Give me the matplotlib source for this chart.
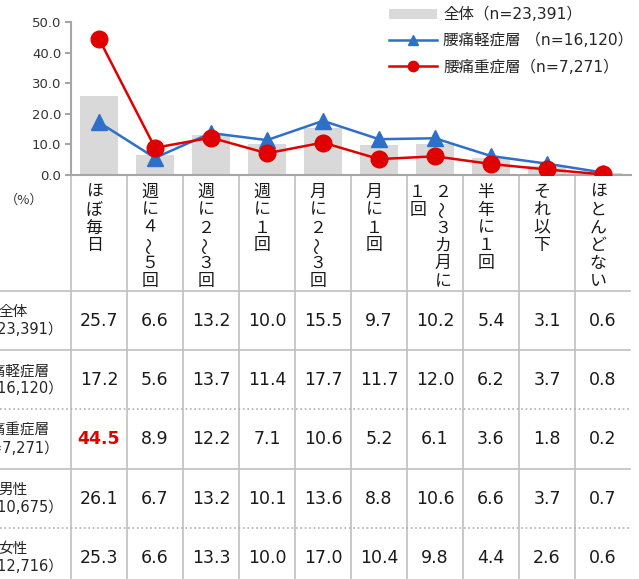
import matplotlib
matplotlib.use('Agg')
import matplotlib.pyplot as plt
from matplotlib.lines import Line2D
from matplotlib.transforms import blended_transform_factory

plt.rcParams['font.family'] = ['DejaVu Sans', 'Noto Sans CJK JP']

categories = ['ほぼ毎日', '週に４～５回', '週に２～３回', '週に１回', '月に２～３回',
              '月に１回', '２～３カ月に１回', '半年に１回', 'それ以下', 'ほとんどない']
total = [25.7, 6.6, 13.2, 10.0, 15.5, 9.7, 10.2, 5.4, 3.1, 0.6]
mild = [17.2, 5.6, 13.7, 11.4, 17.7, 11.7, 12.0, 6.2, 3.7, 0.8]
severe = [44.5, 8.9, 12.2, 7.1, 10.6, 5.2, 6.1, 3.6, 1.8, 0.2]
male = [26.1, 6.7, 13.2, 10.1, 13.6, 8.8, 10.6, 6.6, 3.7, 0.7]
female = [25.3, 6.6, 13.3, 10.0, 17.0, 10.4, 9.8, 4.4, 2.6, 0.6]
table_rows = [total, mild, severe, male, female]
row_labels = ['全体\n（n=23,391）', '腰痛軽症層\n（n=16,120）', '腰痛重症層\n（n=7,271）',
              '男性\n（n=10,675）', '女性\n（n=12,716）']
legend_labels = ['全体（n=23,391）', '腰痛軽症層 （n=16,120）', '腰痛重症層（n=7,271）']
yticks = [0, 10, 20, 30, 40, 50]

W, H = 639, 579
fig = plt.figure(figsize=(W / 100, H / 100), dpi=100)
fig.patch.set_facecolor('white')

def fy(py):
    return 1 - py / H

def fx(px):
    return px / W

ax = fig.add_axes([fx(71), fy(175), fx(631) - fx(71), fy(22) - fy(175)])
x = list(range(len(categories)))

GRID = '#bfbfbf'
BLUE = '#2e6fc9'
RED = '#e00000'

b = ax.bar(x, total, width=0.67, color='#d9d9d9', zorder=1, label=legend_labels[0])
l1, = ax.plot(x, mild, color=BLUE, lw=1.8, marker='^', markersize=11, zorder=3,
              label=legend_labels[1])
l2, = ax.plot(x, severe, color=RED, lw=1.8, marker='o', markersize=12, zorder=4,
              label=legend_labels[2])

ax.set_xlim(-0.5, 9.5)
ax.set_ylim(0, 50)
ax.set_yticks(yticks)
ax.set_yticklabels([f'{v:.1f}' for v in yticks], fontsize=9.5, color='#333333')
ax.set_xticks([])
for s in ['top', 'right']:
    ax.spines[s].set_visible(False)
ax.spines['left'].set_color('#a6a6a6')
ax.spines['left'].set_linewidth(1.5)
ax.spines['bottom'].set_color('#a6a6a6')
ax.spines['bottom'].set_linewidth(1.5)
ax.tick_params(axis='y', length=4, width=1.5, color='#a6a6a6', pad=3)
ax.patch.set_alpha(0)

leg = fig.legend(handles=[b, l1, l2], labels=legend_labels, loc='upper left',
                 bbox_to_anchor=(fx(389), fy(7)), frameon=False, fontsize=11.2,
                 handlelength=3.1, handletextpad=0.4, labelspacing=0.7,
                 borderpad=0, borderaxespad=0, handleheight=0.65, markerscale=0.62)
for t in leg.get_texts():
    t.set_color('#262626')

# category labels (vertical text)
tr = blended_transform_factory(ax.transData, fig.transFigure)
step = 17.8
for i, cat in enumerate(categories):
    cols = [cat[k:k + 6] for k in range(0, len(cat), 6)]
    if len(cols) == 1:
        xs = [i - 0.09]
    else:
        xs = [i + 0.14, i - 0.31]
    for cx, col in zip(xs, cols):
        for k, ch in enumerate(col):
            rot = 90 if ch == '～' else 0
            ax.text(cx, fy(192 + k * step), ch, transform=tr, ha='center', va='center',
                    fontsize=12.2, rotation=rot, color='#1a1a1a',
                    family=['Noto Sans CJK JP'])

fig.text(fx(24), fy(200), '（%）', ha='center', va='center', fontsize=9.5, color='#333333',
         family=['Noto Sans CJK JP'])

# table grid
for i in range(len(categories)):
    xb = i - 0.5
    ax.add_line(Line2D([xb, xb], [fy(176), 0], transform=tr, color=GRID, lw=1.2,
                       clip_on=False))
row_lines = [291, 350, 409, 469, 528]
row_styles = ['-', '-', ':', '-', ':']
for py, ls in zip(row_lines, row_styles):
    fig.add_artist(Line2D([0, fx(630)], [fy(py), fy(py)], color=GRID if ls == '-' else '#b0b0b0',
                          lw=1.2, linestyle=ls))

row_h = 59.3
for r, (lab, vals) in enumerate(zip(row_labels, table_rows)):
    cy = 291 + row_h * (r + 0.5)
    fig.text(fx(13), fy(cy), lab, ha='center', va='center', fontsize=10.5,
             linespacing=1.25, color='#262626')
    for i, v in enumerate(vals):
        hot = (r == 2 and i == 0)
        ax.text(i, fy(cy), f'{v:.1f}', transform=tr, ha='center', va='center',
                fontsize=12.5, color=RED if hot else '#1a1a1a',
                fontweight='bold' if hot else 'normal')

fig.savefig('out.png', dpi=100)
